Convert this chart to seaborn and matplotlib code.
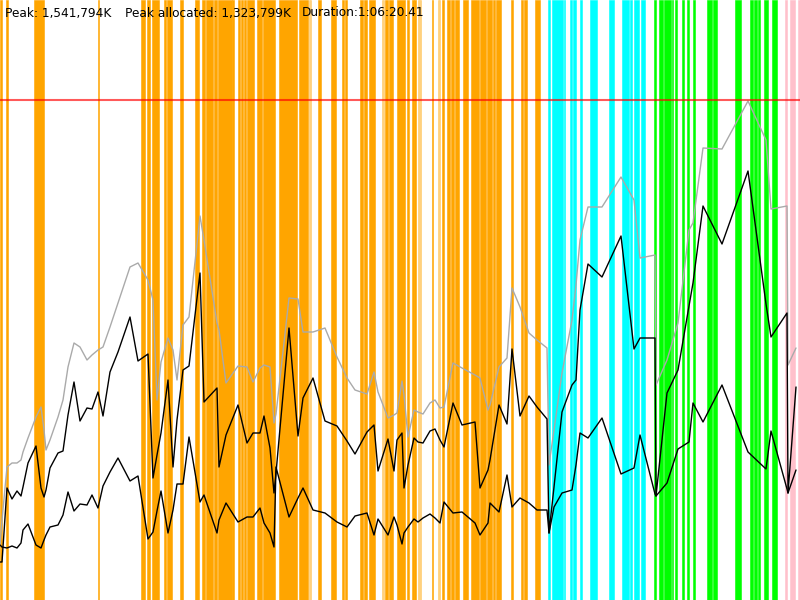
import seaborn as sns
import pandas as pd
import matplotlib
matplotlib.use("Agg")
import matplotlib.pyplot as plt

# time axis (0-800 over the whole run) and memory heights (peak = 500)
times = [0, 2, 7, 12, 17, 21, 23, 28, 36, 41, 44, 46, 50, 58, 63, 68, 74, 80, 87, 92,
         98, 103, 110, 118, 130, 138, 148, 153, 157, 161, 168, 173, 177, 183, 189, 200,
         204, 217, 219, 226, 238, 247, 253, 260, 264, 270, 274, 276, 289, 298, 303, 313,
         325, 337, 347, 355, 367, 374, 378, 388, 394, 397, 402, 404, 408, 414, 418, 423,
         430, 435, 440, 444, 453, 462, 475, 480, 488, 490, 499, 507, 512, 520, 529, 537,
         547, 549, 554, 562, 572, 576, 580, 588, 602, 621, 634, 640, 655, 656, 667, 678,
         689, 693, 703, 722, 748, 766, 771, 787, 788, 796]

total = [55, 80, 133, 137, 137, 140, 148, 162, 183, 193, 170, 150, 160, 183, 200, 233, 257, 253, 240, 245,
         250, 253, 273, 297, 333, 337, 320, 300, 200, 238, 262, 250, 220, 275, 283, 384,
         360, 277, 270, 217, 234, 233, 218, 232, 235, 233, 177, 186, 302, 301, 268, 268,
         272, 243, 222, 210, 206, 228, 208, 182, 185, 187, 219, 205, 163, 190, 188, 186,
         197, 200, 192, 193, 237, 232, 225, 222, 190, 195, 233, 242, 312, 293, 267, 260,
         252, 135, 170, 227, 280, 315, 360, 393, 393, 423, 400, 342, 345, 215, 240, 277,
         370, 377, 452, 451, 499, 460, 391, 394, 235, 252]

allocated = [38, 38, 112, 101, 109, 104, 113, 137, 154, 112, 103, 110, 132, 147, 149, 185, 218, 179, 192, 191,
             208, 184, 228, 248, 283, 239, 246, 122, 145, 167, 220, 133, 180, 230, 234, 327,
             198, 212, 133, 165, 195, 157, 167, 167, 184, 152, 107, 127, 272, 164, 202, 222,
             179, 174, 159, 146, 168, 175, 129, 161, 129, 160, 167, 112, 135, 162, 158, 157,
             169, 171, 160, 153, 197, 175, 178, 112, 130, 140, 195, 176, 251, 184, 204, 193,
             181, 67, 113, 188, 215, 220, 290, 336, 323, 364, 251, 262, 262, 104, 207, 230,
             294, 317, 394, 356, 429, 296, 263, 287, 107, 213]

used = [55, 53, 52, 54, 52, 57, 70, 76, 55, 52, 60, 65, 73, 75, 85, 108, 89, 96, 95, 105,
        92, 114, 128, 142, 119, 124, 61, 68, 89, 109, 67, 90, 116, 116, 163, 98,
        105, 67, 80, 97, 78, 83, 83, 92, 77, 67, 53, 133, 83, 102, 112, 90,
        87, 78, 73, 84, 87, 65, 81, 65, 83, 75, 56, 67, 73, 81, 78, 82,
        86, 82, 77, 98, 87, 88, 77, 65, 77, 97, 88, 125, 93, 102, 97, 90,
        90, 67, 93, 107, 110, 135, 167, 162, 182, 126, 132, 165, 106, 104, 117, 151,
        158, 197, 178, 215, 148, 131, 169, 111, 107, 130]

peak = 500

# event intervals per phase
orange_spans = [(0, 1.5), (6, 7.5), (34, 44), (98, 99), (141, 145), (147, 150), (152, 159),
                (164, 166), (167, 172), (180, 183), (195, 199), (202, 205), (206, 213),
                (214, 217), (218, 232), (232, 233.5), (238, 240), (241, 243), (244, 246),
                (247, 254), (257, 262), (263, 275), (279, 297), (299, 308), (318, 321),
                (331, 336), (342, 344), (345, 347), (360, 363), (364, 367), (369, 375),
                (385, 388), (389, 393), (397, 405), (407, 408.5), (412, 413.5), (414, 416),
                (432, 433), (442, 444), (447, 450), (451, 454), (454.5, 459), (463, 468),
                (471, 479), (480, 486), (487, 492), (493, 494.5), (496, 501), (511, 513),
                (521, 523), (524, 527), (535, 540)]
orange_light = [(309, 310.5), (382, 384), (418, 421), (438, 440)]
cyan_spans = [(548, 549.5), (552, 563), (563.5, 565), (570, 572), (573, 576), (580, 582),
              (590, 597), (609, 614), (622, 629), (630, 632), (634, 639), (641, 645)]
green_spans = [(654, 655.5), (659, 663), (663.5, 671), (671.5, 673), (675, 677), (682, 684),
               (687, 689), (693, 695), (707, 712), (713, 717), (735, 741), (750, 753),
               (753.5, 757), (758, 760), (764, 768), (772, 777)]
pink_spans = [(785, 787), (790, 795), (798, 800)]

sns.set_style("white")

fig = plt.figure(figsize=(8, 6), dpi=100)
ax = fig.add_axes([0, 0, 1, 1])

for spans, col, a in [(orange_spans, "#ffa500", 1.0), (orange_light, "#ffa500", 0.5),
                      (cyan_spans, "#00ffff", 1.0), (green_spans, "#00ff00", 1.0),
                      (pink_spans, "#ffc0cb", 1.0)]:
    for s, e in spans:
        ax.axvspan(s, e, facecolor=col, edgecolor=col, alpha=a, lw=0.4, zorder=1)

df = pd.DataFrame({"time": times * 3,
                   "mem": total + allocated + used,
                   "series": ["total"] * len(times) + ["allocated"] * len(times) + ["used"] * len(times)})

sns.lineplot(data=df, x="time", y="mem", hue="series", units="series", estimator=None,
             palette={"total": "#aaaaaa", "allocated": "black", "used": "black"},
             linewidth=1, legend=False, ax=ax, zorder=3, sort=False)

ax.axhline(peak, color="red", alpha=0.65, lw=1.5, zorder=4)

ax.set_xlim(0, 800)
ax.set_ylim(0, 600)
ax.axis("off")

ax.text(5, 587, "Peak: 1,541,794K", fontsize=8.7, color="black", va="center", zorder=5)
ax.text(125, 587, "Peak allocated: 1,323,799K", fontsize=8.7, color="black", va="center", zorder=5)
ax.text(302, 587, "Duration:1:06:20.41", fontsize=8.7, color="black", va="center", zorder=5)

fig.savefig("out.png", dpi=100)
